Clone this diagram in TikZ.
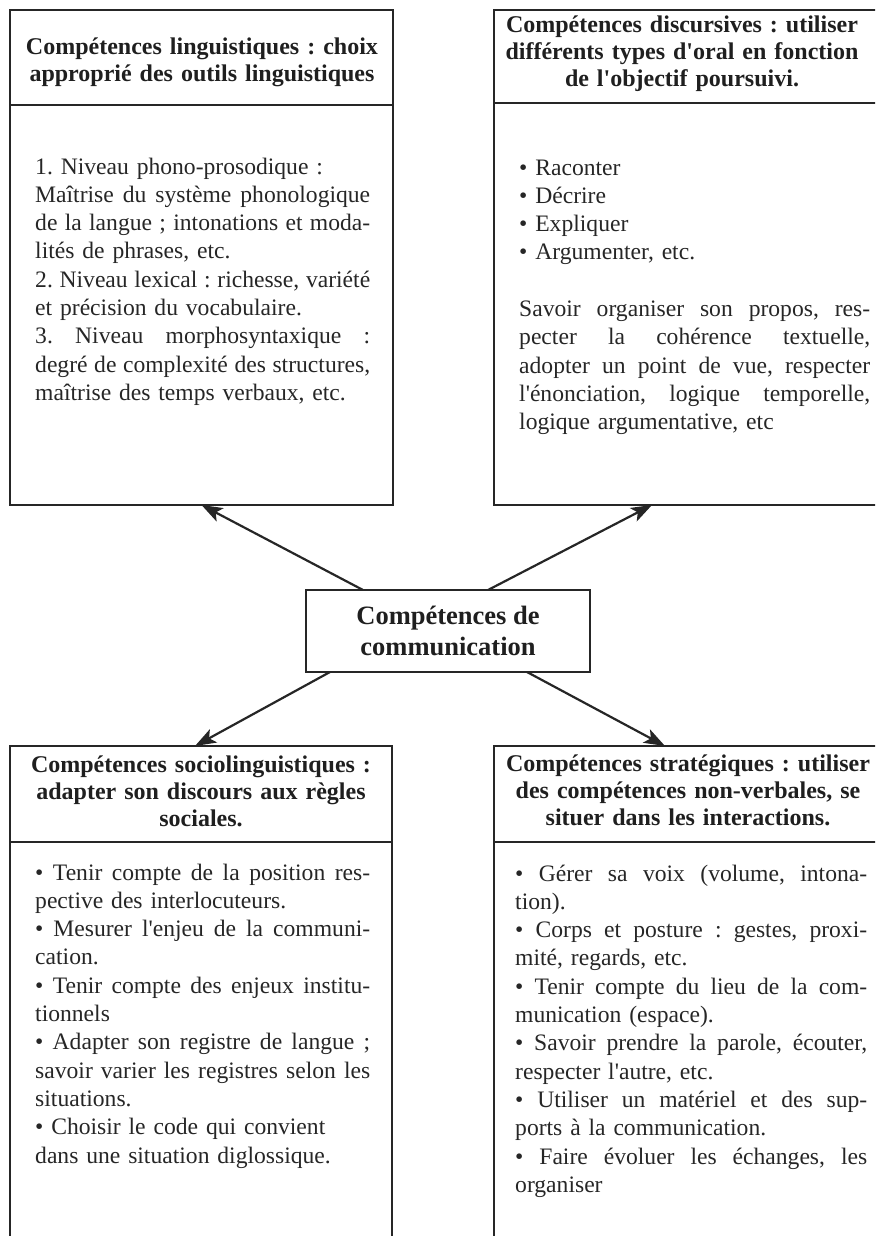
\documentclass[tikz,border=0pt]{standalone}
\usepackage{fontspec}
\setmainfont{Liberation Serif}
\usetikzlibrary{arrows.meta}
\newlength\bw
\newcommand\jl[1]{\leavevmode\hbox to \bw{\spaceskip=\fontdimen2\font plus 1fil\relax #1}}
\newcommand\ap{\textquotesingle}
\frenchspacing
\begin{document}
\begin{tikzpicture}[x=1pt,y=-1pt,
  boxline/.style={draw=black!85, line width=1.3pt},
  panel/.style={boxline, inner sep=0pt, outer sep=0pt, anchor=north west},
  hsep/.style={draw=black!85, line width=1.8pt},
  titletext/.style={anchor=base, inner sep=0pt, align=center, text width=#1, text=black!88,
    font=\frenchspacing\bfseries\fontsize{24}{27}\selectfont},
  bodytext/.style={anchor=base west, inner sep=0pt, align=left, text width=#1, text=black!85,
    font=\frenchspacing\fontsize{23.6}{28.3}\selectfont},
  arr/.style={draw=black!85, line width=2.2pt, -{Stealth[length=21pt,width=15pt,inset=5pt]}}]
\useasboundingbox (0,0) rectangle (875,1236);
\clip (0,0) rectangle (875,1236);

% frames
\node[panel, minimum width=383pt, minimum height=495pt] (tl) at (10,10) {};
\node[panel, minimum width=384pt, minimum height=495pt] (tr) at (494,10) {};
\node[panel, minimum width=382pt, minimum height=520pt] (bl) at (10,746) {};
\node[panel, minimum width=384pt, minimum height=520pt] (br) at (494,746) {};
\node[panel, anchor=center, minimum width=284pt, minimum height=82pt, align=center,
  text=black!88, font=\bfseries\fontsize{26.5}{31}\selectfont] (comm) at (448,631)
  {Compétences de\\communication};

% header separators
\draw[hsep] (tl.west |- 0,105) -- (tl.east |- 0,105);
\draw[hsep] (tr.west |- 0,103) -- (tr.east |- 0,103);
\draw[hsep] (bl.west |- 0,842) -- (bl.east |- 0,842);
\draw[hsep] (br.west |- 0,842) -- (br.east |- 0,842);

% titles
\node[titletext=375pt] (tlt) at (202,55) {Compétences linguistiques : choix\\approprié des outils linguistiques};
\node[titletext=380pt] (trt) at (682,33) {Compétences discursives : utiliser\\différents types d\ap oral en fonction\\de l\ap objectif poursuivi.};
\node[titletext=375pt] (blt) at (201,772) {Compétences sociolinguistiques :\\adapter son discours aux règles\\sociales.};
\node[titletext=380pt] (brt) at (688,771) {Compétences stratégiques : utiliser\\des compétences non-verbales, se\\situer dans les interactions.};

% bodies
\global\bw=335pt
\node[bodytext=335pt] (tlb) at (35,174) {1. Niveau phono-prosodique :\\
\jl{Maîtrise du système phonologique}\\
\jl{de la langue ; intonations et moda-}\\
lités de phrases, etc.\\
\jl{2. Niveau lexical : richesse, variété}\\
et précision du vocabulaire.\\
\jl{3. Niveau morphosyntaxique :}\\
\jl{degré de complexité des structures,}\\
maîtrise des temps verbaux, etc.};

\global\bw=351pt
\node[bodytext=351pt] (trb) at (519,175) {• Raconter\\
• Décrire\\
• Expliquer\\
• Argumenter, etc.\\
\mbox{}\\
\jl{Savoir organiser son propos, res-}\\
\jl{pecter la cohérence textuelle,}\\
\jl{adopter un point de vue, respecter}\\
\jl{l\ap énonciation, logique temporelle,}\\
logique argumentative, etc};

\global\bw=335pt
\node[bodytext=335pt] (blb) at (35,880) {\jl{• Tenir compte de la position res-}\\
pective des interlocuteurs.\\
\jl{• Mesurer l\ap enjeu de la communi-}\\
cation.\\
\jl{• Tenir compte des enjeux institu-}\\
tionnels\\
\jl{• Adapter son registre de langue ;}\\
\jl{savoir varier les registres selon les}\\
situations.\\
• Choisir le code qui convient\\
dans une situation diglossique.};

\global\bw=352pt
\node[bodytext=352pt] (brb) at (515,881) {\jl{• Gérer sa voix (volume, intona-}\\
tion).\\
\jl{• Corps et posture : gestes, proxi-}\\
mité, regards, etc.\\
\jl{• Tenir compte du lieu de la com-}\\
munication (espace).\\
\jl{• Savoir prendre la parole, écouter,}\\
respecter l\ap autre, etc.\\
\jl{• Utiliser un matériel et des sup-}\\
ports à la communication.\\
\jl{• Faire évoluer les échanges, les}\\
organiser};

% connectors
\draw[arr] ([xshift=-85pt]comm.north) -- (tl.south);
\draw[arr] ([xshift=40pt]comm.north) -- ([xshift=-34pt]tr.south);
\draw[arr] ([xshift=-118pt]comm.south) -- ([xshift=-6pt]bl.north);
\draw[arr] ([xshift=79pt]comm.south) -- ([xshift=-21pt]br.north);
\end{tikzpicture}
\end{document}
